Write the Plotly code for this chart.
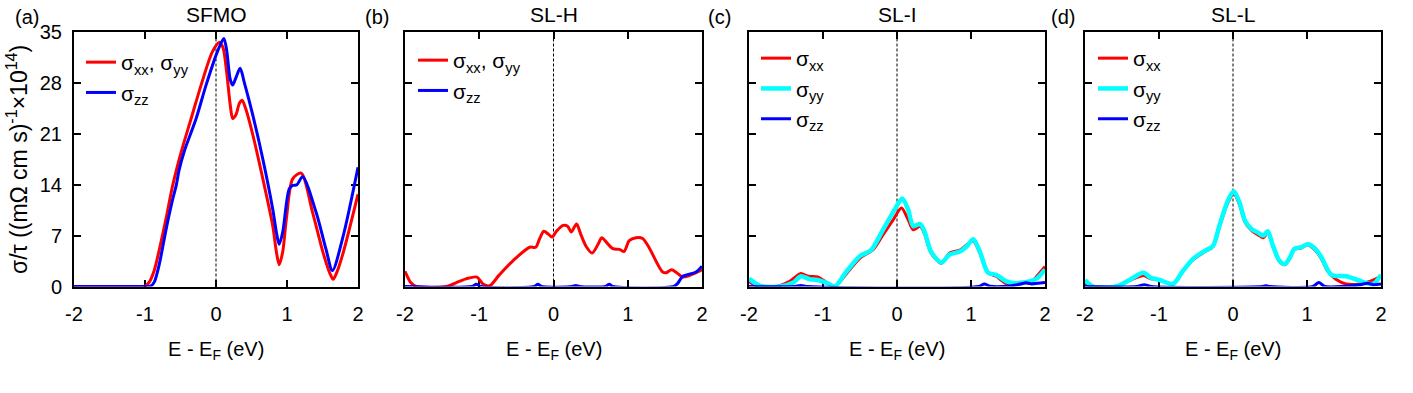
import plotly.graph_objects as go

# ---------------- data ----------------
x_ticks = [-2, -1, 0, 1, 2]
x_tick_labels = ["-2", "-1", "0", "1", "2"]
y_ticks = [0, 7, 14, 21, 28, 35]
y_tick_labels = ["0", "7", "14", "21", "28", "35"]

panel_titles = ["SFMO", "SL-H", "SL-I", "SL-L"]
panel_letters = ["(a)", "(b)", "(c)", "(d)"]

# (a) SFMO
a_xx_x = [-2.0, -1.5, -1.04, -1.0, -0.94, -0.87, -0.8, -0.7, -0.61, -0.49, -0.35, -0.21, -0.05, 0.05,
          0.1, 0.15, 0.2, 0.235, 0.28, 0.33, 0.37, 0.42, 0.52, 0.66, 0.8, 0.85, 0.89, 0.94, 0.99, 1.08,
          1.2, 1.36, 1.51, 1.6, 1.65, 1.7, 1.79, 2.0]
a_xx_y = [0, 0, 0, 0.05, 0.6, 2.2, 5.0, 9.5, 13.9, 18.5, 23.1, 27.7, 32.3, 33.6,
          32.8, 29.5, 25.0, 23.1, 23.6, 25.2, 25.6, 24.4, 20.8, 14.8, 8.3, 4.8, 3.0, 4.8, 9.2, 14.8,
          15.6, 10.2, 4.6, 1.9, 1.0, 1.9, 4.6, 12.7]
a_zz_x = [-2.0, -1.5, -0.96, -0.92, -0.87, -0.8, -0.7, -0.61, -0.56, -0.52, -0.45, -0.28, -0.14, 0.02,
          0.11, 0.15, 0.2, 0.235, 0.28, 0.34, 0.4, 0.52, 0.66, 0.8, 0.85, 0.89, 0.94, 1.03, 1.08, 1.14,
          1.22, 1.41, 1.55, 1.64, 1.79, 2.0]
a_zz_y = [0, 0, 0, 0.05, 0.6, 3.0, 8.0, 12.0, 13.9, 16.0, 18.5, 23.1, 27.7, 32.3,
          34.1, 32.5, 28.5, 27.7, 28.7, 30.0, 28.0, 23.5, 17.5, 10.6, 7.5, 5.8, 7.5, 13.4, 13.9, 14.0,
          15.1, 10.2, 5.1, 2.2, 6.9, 16.4]

# (b) SL-H
b_xx_x = [-2.0, -1.92, -1.85, -1.45, -1.27, -1.18, -1.03, -0.95, -0.86, -0.73, -0.55, -0.32, -0.24,
          -0.19, -0.13, -0.07, -0.02, 0.04, 0.13, 0.19, 0.24, 0.31, 0.37, 0.44, 0.52, 0.6, 0.65, 0.72,
          0.8, 0.89, 0.95, 1.02, 1.11, 1.2, 1.29, 1.38, 1.47, 1.52, 1.59, 1.66, 1.74, 1.83, 1.92, 2.0]
b_xx_y = [2.1, 0.5, 0, 0, 0.7, 1.05, 1.3, 0.35, 0.1, 1.6, 3.5, 5.4, 5.4,
          6.5, 7.6, 7.2, 6.8, 7.6, 8.4, 8.3, 7.5, 8.6, 7.1, 5.5, 4.6, 5.8, 6.7, 6.0,
          5.2, 5.1, 4.8, 6.3, 6.7, 6.6, 5.3, 3.5, 2.0, 1.9, 2.3, 1.9, 1.3, 1.5, 1.9, 2.3]
b_zz_x = [-2.0, -1.1, -1.04, -0.98, -0.26, -0.21, -0.16, 0.25, 0.3, 0.35, 0.7, 0.75, 0.8,
          1.62, 1.67, 1.74, 1.83, 1.92, 2.0]
b_zz_y = [0, 0, 0.3, 0, 0, 0.3, 0, 0, 0.15, 0, 0, 0.3, 0,
          0, 0.4, 1.4, 1.7, 2.0, 2.8]

# (c) SL-I
c_xx_x = [-2.0, -1.9, -1.63, -1.45, -1.3, -1.2, -1.07, -0.95, -0.84, -0.68, -0.5, -0.32, -0.19,
          -0.05, 0.06, 0.15, 0.22, 0.31, 0.37, 0.46, 0.6, 0.71, 0.85, 0.94, 1.03, 1.12, 1.23, 1.34,
          1.48, 1.61, 1.7, 1.8, 1.89, 2.0]
c_xx_y = [0.7, 0.1, 0, 0.7, 1.8, 1.4, 1.3, 0.55, 0.05, 1.8, 3.9, 5.1, 7.1,
          9.2, 10.8, 9.2, 7.8, 8.3, 7.3, 4.6, 3.2, 4.6, 5.0, 5.7, 6.3, 4.6, 1.9, 1.4,
          0.4, 0.55, 0.6, 0.45, 1.4, 2.75]
c_yy_x = [-2.0, -1.85, -1.58, -1.4, -1.3, -1.18, -1.07, -0.93, -0.84, -0.68, -0.5, -0.35, -0.19,
          -0.03, 0.07, 0.15, 0.22, 0.31, 0.37, 0.46, 0.6, 0.71, 0.85, 0.94, 1.03, 1.12, 1.23, 1.34,
          1.48, 1.61, 1.79, 1.89, 2.0]
c_yy_y = [1.1, 0.1, 0, 0.55, 1.4, 1.0, 0.9, 0.4, 0, 2.1, 4.2, 5.0, 7.8,
          10.6, 12.1, 10.6, 8.3, 8.6, 7.6, 4.8, 3.3, 4.4, 4.8, 5.5, 6.5, 4.8, 1.9, 1.6,
          0.7, 0.45, 0.7, 1.1, 2.3]
c_zz_x = [-2.0, -1.4, -1.3, -1.2, 1.1, 1.18, 1.26, 1.5, 1.65, 1.75, 1.82, 1.9, 2.0]
c_zz_y = [0, 0, 0.15, 0, 0, 0.35, 0.05, 0.05, 0.3, 0.5, 0.35, 0.45, 0.55]

# (d) SL-L
d_xx_x = [-2.0, -1.89, -1.58, -1.4, -1.21, -1.11, -0.99, -0.81, -0.68, -0.54, -0.38, -0.27, -0.18,
          -0.07, 0.01, 0.09, 0.16, 0.25, 0.34, 0.41, 0.47, 0.54, 0.63, 0.7, 0.77, 0.83, 0.92, 1.01,
          1.1, 1.19, 1.28, 1.39, 1.53, 1.71, 1.85, 2.0]
d_xx_y = [0.45, 0, 0, 0.8, 1.5, 1.05, 0.9, 0.35, 2.1, 3.7, 4.8, 5.5, 8.3,
          11.5, 12.75, 11.2, 8.9, 7.7, 7.1, 6.7, 7.4, 5.5, 3.4, 3.0, 3.9, 5.1, 5.3, 5.7,
          5.1, 3.9, 2.1, 1.0, 0.35, 0.35, 0.7, 1.4]
d_yy_x = [-2.0, -1.89, -1.58, -1.4, -1.21, -1.11, -0.99, -0.81, -0.68, -0.54, -0.38, -0.27, -0.18,
          -0.07, 0.01, 0.09, 0.16, 0.25, 0.34, 0.41, 0.47, 0.54, 0.63, 0.7, 0.77, 0.83, 0.92, 1.01,
          1.1, 1.19, 1.33, 1.53, 1.71, 1.89, 2.0]
d_yy_y = [0.9, 0, 0, 0.9, 1.9, 1.2, 0.9, 0.35, 2.1, 3.8, 4.9, 5.6, 8.5,
          11.8, 13.1, 11.5, 9.1, 7.9, 7.4, 7.0, 7.6, 5.6, 3.5, 3.1, 4.0, 5.2, 5.4, 5.8,
          5.3, 4.1, 1.6, 1.4, 0.8, 0.35, 1.6]
d_zz_x = [-2.0, -1.3, -1.2, -1.1, 0.4, 0.45, 0.5, 1.08, 1.16, 1.24, 1.7, 1.82, 1.9, 2.0]
d_zz_y = [0, 0, 0.25, 0, 0, 0.1, 0, 0, 0.55, 0, 0.2, 0.45, 0.25, 0.35]

# ---------------- style ----------------
W, H = 1413, 393
FONT = "Liberation Sans, Arial, Helvetica, sans-serif"
RED, BLUE, CYAN = "#ff0000", "#0000ff", "#00ffff"

def px_x(p):
    return p / W

def px_y(p):
    return 1 - p / H

domains_x = [(74, 358), (405, 702), (749, 1045), (1085, 1381)]
domain_y = [px_y(286.5), px_y(32)]
legend_pos = [(81, 42), (413, 40), (756, 38), (1093, 38)]
letter_x = [27, 377, 719, 1063]

SXY = "σ<sub>xx</sub>, σ<sub>yy</sub>"
SXX = "σ<sub>xx</sub>"
SYY = "σ<sub>yy</sub>"
SZZ = "σ<sub>zz</sub>"

panels = [
    [(a_xx_x, a_xx_y, SXY, RED, 3), (a_zz_x, a_zz_y, SZZ, BLUE, 3)],
    [(b_xx_x, b_xx_y, SXY, RED, 3), (b_zz_x, b_zz_y, SZZ, BLUE, 3)],
    [(c_xx_x, c_xx_y, SXX, RED, 3), (c_yy_x, c_yy_y, SYY, CYAN, 4.5), (c_zz_x, c_zz_y, SZZ, BLUE, 3)],
    [(d_xx_x, d_xx_y, SXX, RED, 3), (d_yy_x, d_yy_y, SYY, CYAN, 4.5), (d_zz_x, d_zz_y, SZZ, BLUE, 3)],
]

fig = go.Figure()
layout = dict(
    width=W, height=H, margin=dict(l=0, r=0, t=0, b=0, autoexpand=False),
    paper_bgcolor="white", plot_bgcolor="white",
    font=dict(family=FONT, size=20, color="black"),
    annotations=[], shapes=[],
)

for i, traces in enumerate(panels):
    k = "" if i == 0 else str(i + 1)
    leg = "legend" + k
    for (xs, ys, name, col, lw) in traces:
        fig.add_trace(go.Scatter(
            x=xs, y=ys, mode="lines", name=name,
            line=dict(color=col, width=lw, shape="spline", smoothing=0.8),
            xaxis="x" + k, yaxis="y" + k, legend=leg, showlegend=True,
        ))
    axis_common = dict(
        showline=True, linecolor="black", linewidth=2, mirror="allticks",
        ticks="inside", ticklen=7, tickwidth=2, tickcolor="black",
        showgrid=False, zeroline=False, layer="below traces", automargin=False,
        tickfont=dict(family=FONT, size=20, color="black"),
    )
    layout["xaxis" + k] = dict(
        axis_common, domain=[px_x(domains_x[i][0]), px_x(domains_x[i][1])],
        range=[-2, 2], tickvals=x_ticks, ticktext=x_tick_labels,
        anchor="y" + k, ticklabelstandoff=8,
    )
    layout["yaxis" + k] = dict(
        axis_common, domain=domain_y, range=[0, 35],
        tickvals=y_ticks, ticktext=y_tick_labels,
        showticklabels=(i == 0), anchor="x" + k, ticklabelstandoff=6,
    )
    lx, ly = legend_pos[i]
    layout[leg] = dict(
        x=px_x(lx), y=px_y(ly), xanchor="left", yanchor="top",
        xref="paper", yref="paper", bgcolor="rgba(0,0,0,0)", borderwidth=0,
        font=dict(family=FONT, size=21, color="black"), tracegroupgap=0,
    )
    # dashed Fermi-level line
    layout["shapes"].append(dict(
        type="line", xref="x" + k, yref="y" + k + " domain", x0=0, x1=0, y0=0, y1=1,
        line=dict(color="black", width=1, dash="3px,2px"), layer="below",
    ))
    # panel title
    layout["annotations"].append(dict(
        text=panel_titles[i], xref="x" + k + " domain", x=0.5, yref="paper", y=px_y(15),
        xanchor="center", yanchor="middle", showarrow=False, font=dict(family=FONT, size=21),
    ))
    # panel letter
    layout["annotations"].append(dict(
        text=panel_letters[i], xref="paper", x=px_x(letter_x[i]), yref="paper", y=px_y(17),
        xanchor="center", yanchor="middle", showarrow=False, font=dict(family=FONT, size=20),
    ))
    # x-axis title
    layout["annotations"].append(dict(
        text="E - E<sub>F</sub> (eV)", xref="x" + k + " domain", x=0.5, yref="paper", y=px_y(350),
        xanchor="center", yanchor="middle", showarrow=False, font=dict(family=FONT, size=20),
    ))

# y-axis title
layout["annotations"].append(dict(
    text="σ/τ ((mΩ cm s)<sup>-1</sup>×10<sup>14</sup>)", xref="paper", x=px_x(17),
    yref="paper", y=px_y(160), xanchor="center", yanchor="middle", textangle=-90,
    showarrow=False, font=dict(family=FONT, size=23),
))

fig.update_layout(**layout)
fig.write_html("out.html", config={"displayModeBar": False},
               post_script="document.body.style.margin='0px';document.body.style.padding='0px';")
